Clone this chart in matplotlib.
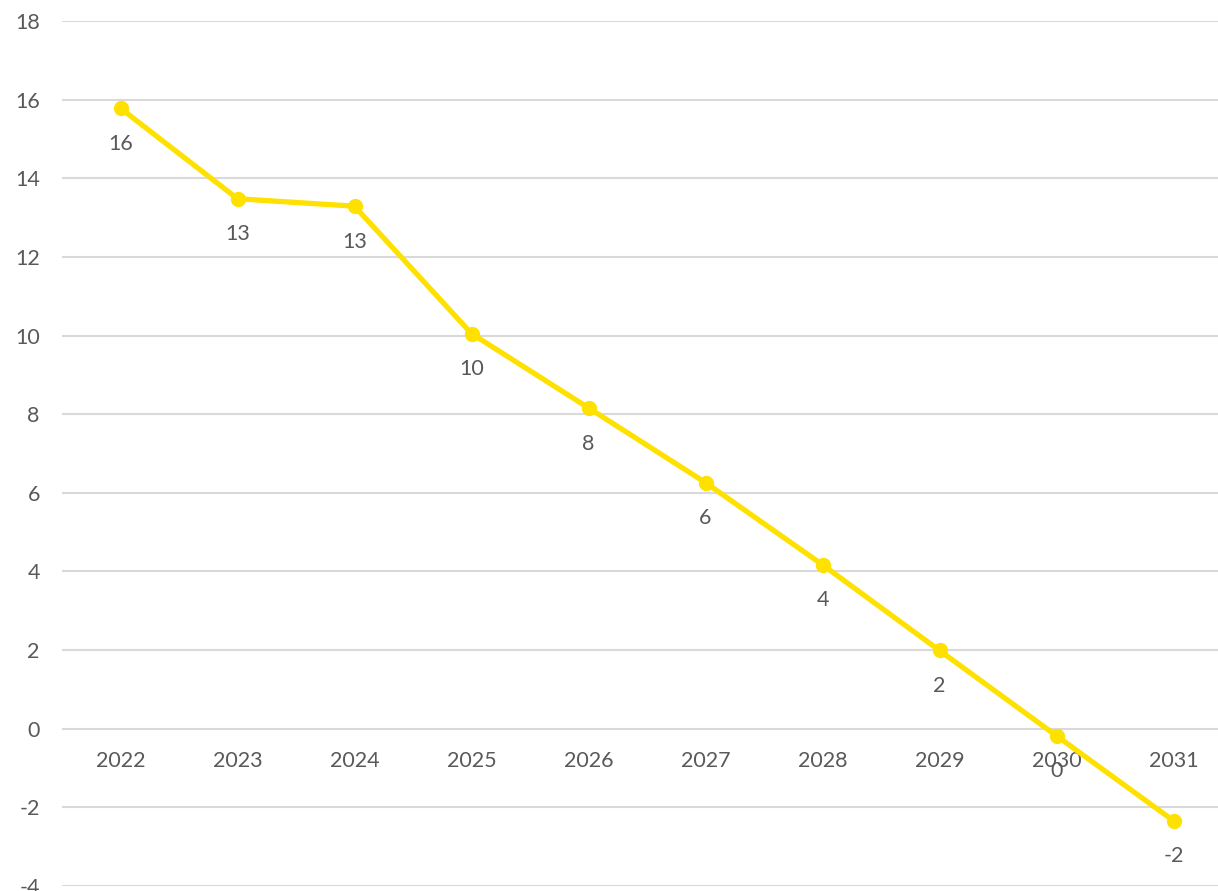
import numpy as np
import matplotlib.pyplot as plt

plt.rcParams['font.family'] = ['Lato', 'DejaVu Sans']
plt.rcParams['axes.unicode_minus'] = False

years = ['2022', '2023', '2024', '2025', '2026', '2027', '2028', '2029', '2030', '2031']
values = [15.78, 13.48, 13.29, 10.05, 8.16, 6.26, 4.17, 1.99, -0.18, -2.34]

line_color = '#FFE100'
text_color = '#595959'
grid_color = '#D9D9D9'

fig = plt.figure(figsize=(12.18, 8.91), dpi=100)
ax = fig.add_axes([62 / 1218, 1 - 886 / 891, 1170 / 1218, (886 - 21) / 891])

x = np.arange(len(years))
ax.plot(x, values, color=line_color, linewidth=3.8, marker='o', markersize=10,
        solid_capstyle='round', zorder=3)

# data labels under each point
for xi, v in zip(x, values):
    ax.annotate(f'{int(round(v))}', (xi, v), xytext=(0, -18.5), textcoords='offset points',
                ha='center', va='top', fontsize=15.5, color=text_color, zorder=4)

ax.set_xlim(-0.5, len(years) - 0.5)
ax.set_ylim(-4, 18)
ax.set_yticks(np.arange(-4, 19, 2))
ax.grid(axis='y', color=grid_color, linewidth=1.5, zorder=0)

# category axis sits on the zero line
ax.spines['bottom'].set_position(('data', 0))
for s in ['top', 'right', 'left', 'bottom']:
    ax.spines[s].set_color('none')
ax.set_xticks(x)
ax.set_xticklabels(years)
ax.tick_params(axis='x', length=0, pad=16, labelsize=15.5, labelcolor=text_color)
ax.tick_params(axis='y', length=0, pad=16, labelsize=15.5, labelcolor=text_color)

fig.savefig('out.png', dpi=100)
